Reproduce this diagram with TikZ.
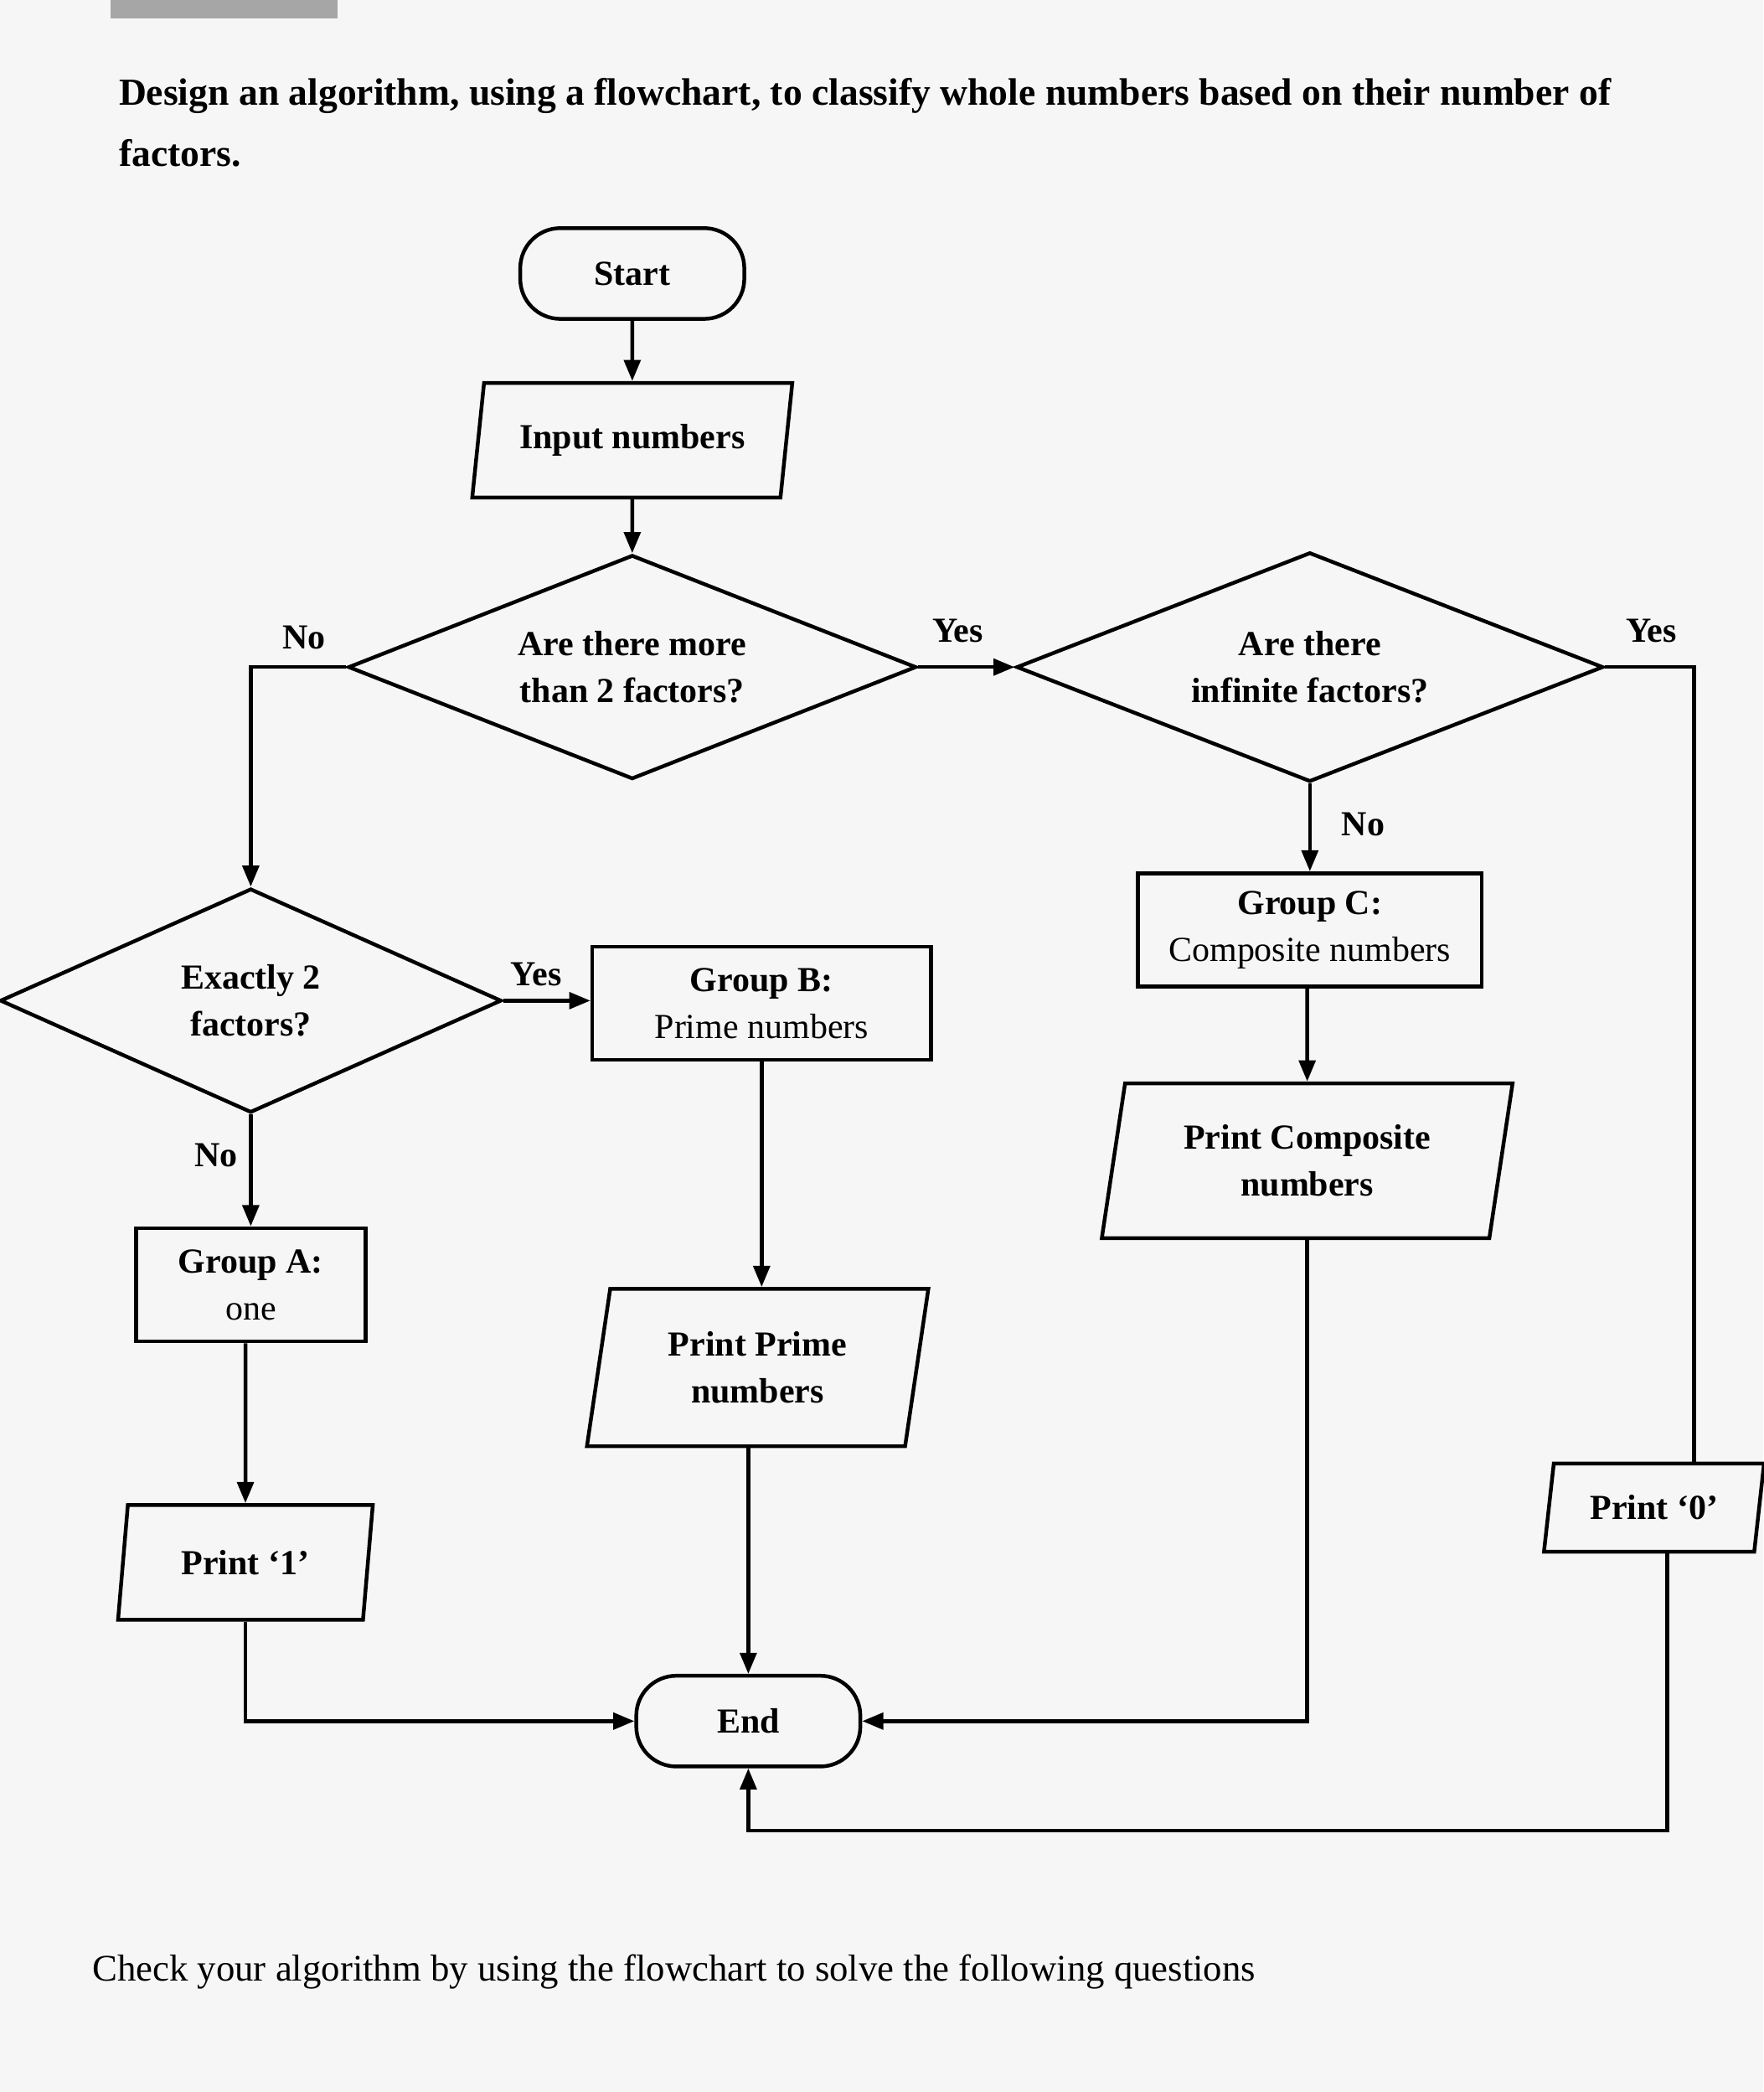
\documentclass[tikz,border=0pt]{standalone}
\usepackage{fontspec}
\setmainfont{Liberation Serif}
\usetikzlibrary{shapes.geometric,arrows.meta}
\begin{document}
\begin{tikzpicture}[x=0.02cm,y=-0.02cm,
 base/.style={draw=black,line width=1.6pt,font=\fontsize{15}{20}\selectfont,align=center,inner sep=2pt},
 bf/.style={font=\bfseries\fontsize{15}{20}\selectfont},
 term/.style={base,bf,rounded corners=0.6cm,minimum width=3.36cm,minimum height=1.36cm},
 io/.style={base,bf,trapezium,trapezium left angle=74,trapezium right angle=106,trapezium stretches body},
 dec/.style={base,bf,diamond,aspect=2.5},
 proc/.style={base,minimum height=1.7cm},
 lab/.style={font=\bfseries\fontsize{15}{18}\selectfont},
 line/.style={line width=1.6pt},
 arr/.style={line,-{Triangle[length=9pt,width=7pt]}}]
\fill[white!93!gray] (0,0) rectangle (1322,1568);
\useasboundingbox (0,0) rectangle (1322,1568);
\fill[gray!70] (83,0) rectangle (253,14);
\node[anchor=west,align=left,font=\bfseries\fontsize{16.3}{26}\selectfont] (title) at (83,92) {Design an algorithm, using a flowchart, to classify whole numbers based on their number of\\factors.};
\node[anchor=west,font=\fontsize{16}{20}\selectfont] (check) at (63,1478) {Check your algorithm by using the flowchart to solve the following questions};

\node[term] (start) at (474,205) {Start};
\node[io,minimum width=4.8cm,minimum height=1.72cm] (input) at (474,330) {Input numbers};
\node[dec,minimum width=8.52cm,minimum height=3.36cm] (d1) at (474,500) {Are there more\\than 2 factors?};
\node[dec,minimum width=8.8cm,minimum height=3.44cm] (d2) at (982,500) {Are there\\infinite factors?};
\node[proc,minimum width=5.16cm] (gc) at (982,697) {\textbf{Group C:}\\Composite numbers};
\node[io,minimum width=6.16cm,minimum height=2.32cm] (pc) at (980,870) {Print Composite\\numbers};
\node[dec,minimum width=7.52cm,minimum height=3.36cm] (d3) at (188,750) {Exactly 2\\factors?};
\node[proc,minimum width=3.44cm] (ga) at (188,963) {\textbf{Group A:}\\one};
\node[io,minimum width=3.82cm,minimum height=1.72cm] (p1) at (184,1171) {Print `1'};
\node[proc,minimum width=5.08cm] (gb) at (571,752) {\textbf{Group B:}\\Prime numbers};
\node[io,minimum width=5.12cm,minimum height=2.36cm] (pp) at (568,1025) {Print Prime\\numbers};
\node[term] (end) at (561,1290) {End};
\node[io,minimum width=3.3cm,minimum height=1.32cm] (p0) at (1240,1130) {Print `0'};

\draw[arr] (start) -- (input);
\draw[arr] (input) -- (d1);
\draw[arr] (d1.east) -- (d2.west);
\draw[arr] (d1.west) -| (d3.north);
\draw[arr] (d2.south) -- (gc);
\draw[arr] (gc.south -| pc) -- (pc);
\draw[arr] (d3.east) -- (gb.west |- d3.east);
\draw[arr] (d3.south) -- (ga);
\draw[arr] (ga.south -| p1) -- (p1);
\draw[arr] (gb) -- (gb |- pp.north);
\draw[arr] (pp.south -| end.north) -- (end.north);
\draw[arr] (p1.south) |- (end.west);
\draw[arr] (pc.south) |- (end.east);
\coordinate (r1) at (1270,500);
\draw[line] (d2.east) -- (r1) -- (r1 |- p0.north);
\coordinate (b1) at (1250,1372);
\draw[arr] (p0.south -| b1) -- (b1) -| (end.south);

\node[lab] (no1) at (228,478) {No};
\node[lab] (yes1) at (718,473) {Yes};
\node[lab] (yes2) at (1238,473) {Yes};
\node[lab] (no2) at (1022,618) {No};
\node[lab] (yes3) at (402,730) {Yes};
\node[lab] (no3) at (162,866) {No};
\end{tikzpicture}
\end{document}
